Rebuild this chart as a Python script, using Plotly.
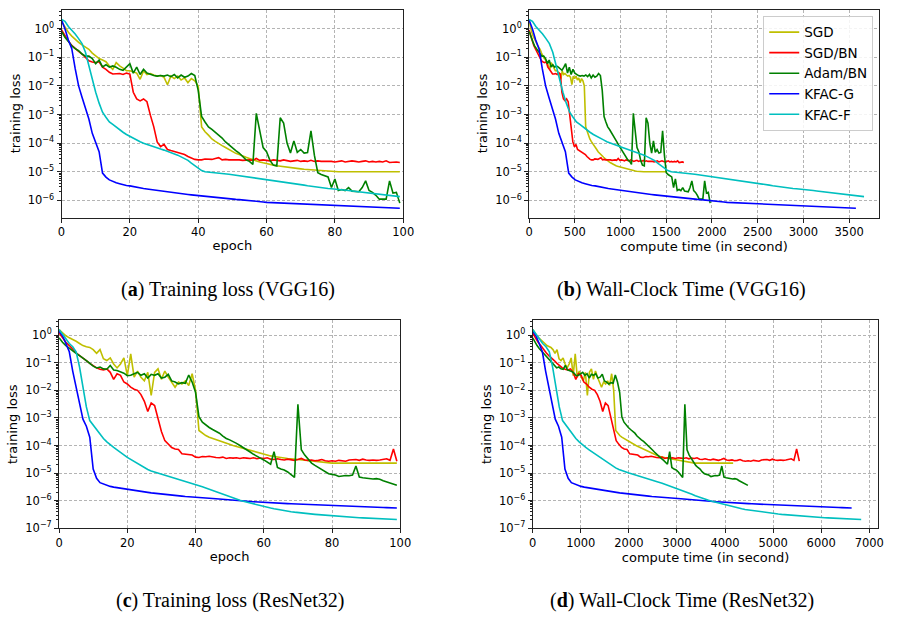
import plotly.graph_objects as go

# ---------------- data ----------------
EPOCHS = list(range(100))
METHODS = ["SGD", "SGD/BN", "Adam/BN", "KFAC-G", "KFAC-F"]
COLORS = ["#bfbf00", "#ff0000", "#008000", "#0000ff", "#00bfbf"]

# VGG16 training loss per epoch
VGG_SGD = [1.8, 1.1, 0.75, 0.55, 0.42, 0.33, 0.27, 0.22, 0.19, 0.14,
           0.11, 0.09, 0.08, 0.07, 0.05, 0.038, 0.065, 0.05, 0.042, 0.034,
           0.034, 0.03, 0.028, 0.017, 0.033, 0.025, 0.027, 0.024, 0.022, 0.023,
           0.02, 0.011, 0.022, 0.018, 0.022, 0.016, 0.019, 0.013, 0.018, 0.015,
           0.01, 3.7e-4, 2.5e-4, 1.9e-4, 1.4e-4, 1.15e-4, 9.5e-5, 8.2e-5, 7e-5, 6e-5,
           5e-5, 4.4e-5, 4e-5, 3.5e-5, 3.2e-5, 2.9e-5, 2.6e-5, 2.4e-5, 2.2e-5, 2.05e-5,
           1.9e-5, 1.8e-5, 1.7e-5, 1.62e-5, 1.55e-5, 1.5e-5, 1.45e-5, 1.4e-5, 1.35e-5, 1.3e-5,
           1.26e-5, 1.22e-5, 1.19e-5, 1.16e-5, 1.13e-5, 1.1e-5, 1.08e-5, 1.06e-5, 1.04e-5, 1.02e-5,
           1.0e-5, 1.0e-5, 1.0e-5, 1.0e-5, 1.0e-5, 1.0e-5, 1.0e-5, 1.0e-5, 1.0e-5, 1.0e-5,
           1.0e-5, 1.0e-5, 1.0e-5, 1.0e-5, 1.0e-5, 1.0e-5, 1.0e-5, 1.0e-5, 1.0e-5, 1.0e-5]
VGG_SGDBN = [0.9, 0.55, 0.37, 0.26, 0.2, 0.16, 0.13, 0.1, 0.075, 0.068,
             0.065, 0.07, 0.045, 0.038, 0.03, 0.026, 0.026, 0.027, 0.025, 0.028,
             0.026, 0.006, 0.0035, 0.003, 0.0035, 0.0028, 9.5e-4, 3.7e-4, 1.1e-4, 7.5e-5,
             9e-5, 6e-5, 5.5e-5, 5e-5, 4.8e-5, 4.4e-5, 4e-5, 3.4e-5, 3e-5, 2.7e-5,
             2.6e-5, 2.6e-5, 2.8e-5, 2.8e-5, 2.7e-5, 2.9e-5, 3.1e-5, 2.6e-5, 2.7e-5, 2.6e-5,
             2.6e-5, 2.7e-5, 2.6e-5, 2.5e-5, 2.6e-5, 2.6e-5, 2.5e-5, 2.9e-5, 2.5e-5, 2.6e-5,
             2.5e-5, 2.4e-5, 2.6e-5, 2.5e-5, 2.4e-5, 2.6e-5, 2.4e-5, 2.3e-5, 2.4e-5, 2.5e-5,
             2.3e-5, 2.4e-5, 2.3e-5, 2.5e-5, 2.3e-5, 2.4e-5, 2.3e-5, 2.3e-5, 2.4e-5, 2.3e-5,
             2.2e-5, 2.3e-5, 2.4e-5, 2.2e-5, 2.3e-5, 2.4e-5, 2.3e-5, 2.2e-5, 2.3e-5, 2.4e-5,
             2.2e-5, 2.3e-5, 2.2e-5, 2.3e-5, 2.2e-5, 2.4e-5, 2.1e-5, 2.2e-5, 2.2e-5, 2.1e-5]
VGG_ADAM = [0.8, 0.5, 0.36, 0.25, 0.2, 0.17, 0.13, 0.11, 0.11, 0.09,
            0.06, 0.08, 0.046, 0.055, 0.045, 0.05, 0.045, 0.038, 0.035, 0.045,
            0.06, 0.028, 0.045, 0.025, 0.038, 0.028, 0.025, 0.023, 0.022, 0.023,
            0.022, 0.024, 0.021, 0.025, 0.019, 0.024, 0.02, 0.022, 0.027, 0.023,
            0.007, 8.5e-4, 5.5e-4, 3.7e-4, 3e-4, 2.4e-4, 1.8e-4, 1.5e-4, 1.1e-4, 8.5e-5,
            6.7e-5, 5.5e-5, 4.5e-5, 3.5e-5, 2.6e-5, 2.3e-5, 1.8e-5, 1.1e-3, 3e-4, 7e-5,
            5e-5, 2.5e-5, 1.7e-5, 1.6e-5, 7.7e-4, 5e-4, 1e-4, 4.5e-5, 1.2e-4, 4.8e-5,
            6e-5, 4.5e-5, 4.7e-5, 2.7e-4, 3.8e-5, 9.3e-6, 8e-6, 7.4e-6, 6.6e-6, 2.8e-6,
            5.6e-6, 2.2e-6, 2.4e-6, 2.2e-6, 2.8e-6, 2.1e-6, 2.0e-6, 2.0e-6, 2.8e-6, 4.8e-6,
            2.2e-6, 1.9e-6, 1.5e-6, 1.1e-6, 1.1e-6, 1.1e-6, 4.8e-6, 1.8e-6, 1.9e-6, 8e-7]
VGG_KFACG = [2.0, 1.0, 0.4, 0.2, 0.04, 0.01, 0.004, 0.0018, 7e-4, 2.2e-4,
             1.1e-4, 5e-5, 9e-6, 6.5e-6, 5.2e-6, 4.5e-6, 4.1e-6, 3.8e-6, 3.5e-6, 3.3e-6,
             3.2e-6, 3.0e-6, 2.85e-6, 2.7e-6, 2.6e-6, 2.5e-6, 2.4e-6, 2.3e-6, 2.2e-6, 2.1e-6,
             2.0e-6, 1.95e-6, 1.9e-6, 1.85e-6, 1.8e-6, 1.72e-6, 1.65e-6, 1.6e-6, 1.55e-6, 1.5e-6,
             1.45e-6, 1.42e-6, 1.38e-6, 1.35e-6, 1.32e-6, 1.28e-6, 1.25e-6, 1.22e-6, 1.18e-6, 1.14e-6,
             1.1e-6, 1.08e-6, 1.06e-6, 1.04e-6, 1.02e-6, 1.0e-6, 9.7e-7, 9.4e-7, 9.1e-7, 8.8e-7,
             8.5e-7, 8.4e-7, 8.3e-7, 8.2e-7, 8.1e-7, 8.0e-7, 7.9e-7, 7.8e-7, 7.7e-7, 7.6e-7,
             7.5e-7, 7.4e-7, 7.3e-7, 7.2e-7, 7.1e-7, 7.0e-7, 6.9e-7, 6.8e-7, 6.7e-7, 6.65e-7,
             6.6e-7, 6.5e-7, 6.45e-7, 6.4e-7, 6.3e-7, 6.2e-7, 6.15e-7, 6.1e-7, 6.0e-7, 5.95e-7,
             5.9e-7, 5.8e-7, 5.75e-7, 5.7e-7, 5.6e-7, 5.55e-7, 5.5e-7, 5.45e-7, 5.4e-7, 5.3e-7]
VGG_KFACF = [2.1, 1.8, 1.2, 0.9, 0.65, 0.45, 0.3, 0.15, 0.05, 0.015,
             0.006, 0.0025, 0.0012, 8e-4, 5.5e-4, 4.5e-4, 3.6e-4, 2.9e-4, 2.4e-4, 2e-4,
             1.7e-4, 1.5e-4, 1.3e-4, 1.12e-4, 1e-4, 9e-5, 8.2e-5, 7.5e-5, 6.8e-5, 6.2e-5,
             5.7e-5, 5.2e-5, 4.7e-5, 4.2e-5, 3.8e-5, 3.3e-5, 2.9e-5, 2.5e-5, 2.0e-5, 1.6e-5,
             1.3e-5, 1.1e-5, 1.0e-5, 9.8e-6, 9.6e-6, 9.4e-6, 9.1e-6, 8.8e-6, 8.5e-6, 8.2e-6,
             7.9e-6, 7.6e-6, 7.3e-6, 7.1e-6, 6.8e-6, 6.6e-6, 6.3e-6, 6.1e-6, 5.9e-6, 5.7e-6,
             5.5e-6, 5.3e-6, 5.1e-6, 4.9e-6, 4.7e-6, 4.5e-6, 4.3e-6, 4.1e-6, 3.9e-6, 3.7e-6,
             3.55e-6, 3.4e-6, 3.25e-6, 3.1e-6, 3.0e-6, 2.9e-6, 2.8e-6, 2.7e-6, 2.6e-6, 2.55e-6,
             2.5e-6, 2.42e-6, 2.35e-6, 2.28e-6, 2.2e-6, 2.12e-6, 2.05e-6, 1.98e-6, 1.9e-6, 1.85e-6,
             1.8e-6, 1.74e-6, 1.68e-6, 1.62e-6, 1.57e-6, 1.52e-6, 1.48e-6, 1.44e-6, 1.4e-6, 1.35e-6]

# ResNet32 training loss per epoch
RES_SGD = [1.6, 1.2, 0.95, 0.8, 0.7, 0.6, 0.5, 0.42, 0.38, 0.36,
           0.3, 0.22, 0.3, 0.14, 0.12, 0.15, 0.09, 0.065, 0.09, 0.15,
           0.034, 0.21, 0.03, 0.05, 0.03, 0.022, 0.045, 0.0065, 0.045, 0.06,
           0.025, 0.05, 0.03, 0.02, 0.013, 0.02, 0.017, 0.022, 0.015, 0.04,
           0.01, 3.5e-4, 2.8e-4, 2.3e-4, 2e-4, 1.8e-4, 1.6e-4, 1.45e-4, 1.3e-4, 1.2e-4,
           1.1e-4, 1e-4, 9.2e-5, 8.5e-5, 7.8e-5, 7.2e-5, 6.6e-5, 6e-5, 5.5e-5, 5.1e-5,
           4.8e-5, 4.5e-5, 4.2e-5, 4e-5, 3.8e-5, 3.6e-5, 3.5e-5, 3.4e-5, 3.3e-5, 3.2e-5,
           3.1e-5, 3e-5, 2.9e-5, 2.8e-5, 2.7e-5, 2.6e-5, 2.5e-5, 2.45e-5, 2.4e-5, 2.35e-5,
           2.3e-5, 2.3e-5, 2.3e-5, 2.3e-5, 2.3e-5, 2.3e-5, 2.3e-5, 2.3e-5, 2.3e-5, 2.3e-5,
           2.3e-5, 2.3e-5, 2.3e-5, 2.3e-5, 2.3e-5, 2.3e-5, 2.3e-5, 2.3e-5, 2.3e-5, 2.3e-5]
RES_SGDBN = [1.2, 0.8, 0.55, 0.42, 0.3, 0.23, 0.18, 0.15, 0.12, 0.095,
             0.078, 0.065, 0.058, 0.055, 0.06, 0.045, 0.025, 0.04, 0.035, 0.02,
             0.017, 0.013, 0.011, 0.01, 0.007, 0.004, 0.0017, 0.0035, 0.0028, 0.001,
             3.2e-4, 1.5e-4, 1.1e-4, 8.5e-5, 7.5e-5, 7.2e-5, 5e-5, 4.8e-5, 4.7e-5, 4.5e-5,
             3.8e-5, 3.7e-5, 4e-5, 3.9e-5, 4.1e-5, 3.8e-5, 3.7e-5, 3.6e-5, 3.8e-5, 3.4e-5,
             3.6e-5, 3.5e-5, 3.6e-5, 3.4e-5, 3.6e-5, 3.5e-5, 3.4e-5, 3.6e-5, 3.3e-5, 3.5e-5,
             3.4e-5, 3.6e-5, 3.2e-5, 3.1e-5, 3.3e-5, 3.1e-5, 3.0e-5, 3.2e-5, 3.0e-5, 2.9e-5,
             3.1e-5, 3.4e-5, 3.0e-5, 2.9e-5, 3.0e-5, 2.8e-5, 2.9e-5, 3.1e-5, 2.8e-5, 2.7e-5,
             2.8e-5, 2.7e-5, 2.9e-5, 2.8e-5, 2.7e-5, 3.0e-5, 3.0e-5, 3.1e-5, 2.9e-5, 3.2e-5,
             3.0e-5, 2.9e-5, 3.0e-5, 2.9e-5, 3.0e-5, 3.1e-5, 3.3e-5, 2.9e-5, 7.5e-5, 2.7e-5]
RES_ADAM = [0.8, 0.55, 0.42, 0.33, 0.27, 0.22, 0.18, 0.15, 0.12, 0.095,
            0.075, 0.065, 0.07, 0.06, 0.058, 0.08, 0.055, 0.052, 0.048, 0.042,
            0.034, 0.035, 0.04, 0.045, 0.035, 0.04, 0.028, 0.038, 0.035, 0.04,
            0.028, 0.03, 0.038, 0.022, 0.02, 0.017, 0.019, 0.018, 0.036, 0.02,
            0.0085, 0.0011, 7e-4, 5.5e-4, 4.5e-4, 3.8e-4, 3.3e-4, 2.8e-4, 2.2e-4, 1.8e-4,
            1.6e-4, 1.4e-4, 1.2e-4, 1e-4, 8.5e-5, 7e-5, 5.8e-5, 4.8e-5, 4.2e-5, 3.5e-5,
            3e-5, 2.5e-5, 2.1e-5, 6e-5, 1.6e-5, 1.4e-5, 1.3e-5, 1.1e-5, 8.5e-6, 7e-6,
            3.1e-3, 7e-5, 4.5e-5, 3.3e-5, 2.3e-5, 1.9e-5, 1.6e-5, 1.4e-5, 1.1e-5, 9.5e-6,
            9e-6, 8.5e-6, 7.5e-6, 7.8e-6, 8.2e-6, 8e-6, 8.5e-6, 1.8e-5, 7.2e-6, 6.8e-6,
            6.5e-6, 6.3e-6, 6.1e-6, 6.3e-6, 6e-6, 5.3e-6, 4.8e-6, 4.3e-6, 3.9e-6, 3.6e-6]
RES_KFACG = [1.4, 0.95, 0.5, 0.25, 0.05, 0.012, 0.003, 9e-4, 5e-4, 2e-4,
             1.4e-5, 6.5e-6, 4.5e-6, 4e-6, 3.6e-6, 3.3e-6, 3.1e-6, 2.95e-6, 2.8e-6, 2.7e-6,
             2.6e-6, 2.5e-6, 2.4e-6, 2.3e-6, 2.2e-6, 2.1e-6, 2.0e-6, 1.92e-6, 1.85e-6, 1.78e-6,
             1.72e-6, 1.67e-6, 1.62e-6, 1.58e-6, 1.54e-6, 1.5e-6, 1.46e-6, 1.42e-6, 1.38e-6, 1.34e-6,
             1.3e-6, 1.28e-6, 1.26e-6, 1.24e-6, 1.22e-6, 1.2e-6, 1.18e-6, 1.16e-6, 1.14e-6, 1.12e-6,
             1.1e-6, 1.07e-6, 1.04e-6, 1.01e-6, 9.8e-7, 9.6e-7, 9.4e-7, 9.2e-7, 9.0e-7, 8.8e-7,
             8.6e-7, 8.5e-7, 8.4e-7, 8.3e-7, 8.2e-7, 8.1e-7, 8.0e-7, 7.8e-7, 7.7e-7, 7.6e-7,
             7.5e-7, 7.4e-7, 7.3e-7, 7.2e-7, 7.1e-7, 7.0e-7, 6.9e-7, 6.8e-7, 6.7e-7, 6.6e-7,
             6.5e-7, 6.45e-7, 6.4e-7, 6.35e-7, 6.3e-7, 6.2e-7, 6.15e-7, 6.1e-7, 6.05e-7, 6.0e-7,
             5.9e-7, 5.85e-7, 5.8e-7, 5.75e-7, 5.7e-7, 5.65e-7, 5.6e-7, 5.55e-7, 5.5e-7, 5.45e-7]
RES_KFACF = [1.6, 1.1, 0.7, 0.5, 0.38, 0.25, 0.07, 0.012, 0.0025, 8e-4,
             5.5e-4, 3.5e-4, 2.6e-4, 1.8e-4, 1.35e-4, 1.05e-4, 8.5e-5, 7e-5, 5.8e-5, 4.6e-5,
             3.7e-5, 3.1e-5, 2.6e-5, 2.2e-5, 1.85e-5, 1.55e-5, 1.35e-5, 1.2e-5, 1.1e-5, 1e-5,
             9.3e-6, 8.6e-6, 8e-6, 7.4e-6, 6.8e-6, 6.2e-6, 5.7e-6, 5.2e-6, 4.7e-6, 4.3e-6,
             3.9e-6, 3.5e-6, 3.2e-6, 2.9e-6, 2.6e-6, 2.35e-6, 2.1e-6, 1.9e-6, 1.7e-6, 1.5e-6,
             1.35e-6, 1.22e-6, 1.12e-6, 1.03e-6, 9.5e-7, 8.8e-7, 8.2e-7, 7.6e-7, 7e-7, 6.5e-7,
             6e-7, 5.7e-7, 5.4e-7, 5.1e-7, 4.8e-7, 4.6e-7, 4.4e-7, 4.2e-7, 4e-7, 3.85e-7,
             3.7e-7, 3.6e-7, 3.5e-7, 3.4e-7, 3.3e-7, 3.2e-7, 3.12e-7, 3.04e-7, 2.96e-7, 2.88e-7,
             2.8e-7, 2.75e-7, 2.7e-7, 2.65e-7, 2.6e-7, 2.55e-7, 2.5e-7, 2.46e-7, 2.42e-7, 2.38e-7,
             2.34e-7, 2.3e-7, 2.27e-7, 2.24e-7, 2.21e-7, 2.18e-7, 2.15e-7, 2.12e-7, 2.1e-7, 2.08e-7]

# average wall-clock seconds per epoch, per method (SGD, SGD/BN, Adam/BN, KFAC-G, KFAC-F)
VGG_SEC_PER_EPOCH = [15.1, 17.1, 20.0, 36.1, 37.0]
RES_SEC_PER_EPOCH = [42.1, 56.0, 45.2, 67.0, 69.0]

VGG_LOSSES = [VGG_SGD, VGG_SGDBN, VGG_ADAM, VGG_KFACG, VGG_KFACF]
RES_LOSSES = [RES_SGD, RES_SGDBN, RES_ADAM, RES_KFACG, RES_KFACF]

CAPTIONS = ["(<b>a</b>) Training loss (VGG16)", "(<b>b</b>) Wall-Clock Time (VGG16)",
            "(<b>c</b>) Training loss (ResNet32)", "(<b>d</b>) Wall-Clock Time (ResNet32)"]
X_TITLES = ["epoch", "compute time (in second)", "epoch", "compute time (in second)"]
Y_TITLE = "training loss"

# ---------------- layout helpers ----------------
W, H = 898, 621


def xd(a, b):
    return [a / W, b / W]


def yd(top, bottom):
    return [1 - bottom / H, 1 - top / H]


SUP = {0: "0", 1: "\u22121", 2: "\u22122", 3: "\u22123", 4: "\u22124", 5: "\u22125", 6: "\u22126", 7: "\u22127"}

panels = [
    dict(n="", xdom=xd(58.5, 406), ydom=yd(9.7, 220), xr=[0, 100], dtick=20,
         yr=[-6.6, 0.667], decs=6, losses=VGG_LOSSES, spe=None, legend=False),
    dict(n="2", xdom=xd(534, 890), ydom=yd(9.7, 220), xr=[0, 3828], dtick=500,
         yr=[-6.6, 0.667], decs=6, losses=VGG_LOSSES, spe=VGG_SEC_PER_EPOCH, legend=True),
    dict(n="3", xdom=xd(56, 403), ydom=yd(324, 534.3), xr=[0, 100], dtick=20,
         yr=[-7.0, 0.537], decs=7, losses=RES_LOSSES, spe=None, legend=False),
    dict(n="4", xdom=xd(537.7, 889.3), ydom=yd(324, 534.3), xr=[0, 7190], dtick=1000,
         yr=[-7.0, 0.537], decs=7, losses=RES_LOSSES, spe=RES_SEC_PER_EPOCH, legend=False),
]

fig = go.Figure()
AXFONT = dict(family="DejaVu Sans", size=11.5, color="#000000")
TITLEFONT = dict(family="DejaVu Sans", size=13, color="#000000")
GRID = dict(showgrid=True, gridcolor="#b4b4b4", gridwidth=0.8, griddash="3px,2px")

layout = {}
for i, p in enumerate(panels):
    xa = "x" + p["n"]
    ya = "y" + p["n"]
    for m in range(5):
        ys = p["losses"][m]
        if p["spe"] is None:
            xs = EPOCHS
        else:
            xs = [e * p["spe"][m] for e in EPOCHS]
        fig.add_trace(go.Scatter(
            x=xs, y=ys, mode="lines", name=METHODS[m],
            line=dict(color=COLORS[m], width=1.6),
            xaxis=xa, yaxis=ya, showlegend=p["legend"], legendgroup=METHODS[m]))
    tv = [10.0 ** (-k) for k in range(0, p["decs"] + 1)]
    tt = ["10<sup>%s</sup>" % SUP[k] for k in range(0, p["decs"] + 1)]
    minors = [d * 10.0 ** (-k) for k in range(0, p["decs"] + 1) for d in range(2, 10)]
    layout["xaxis" + p["n"]] = dict(
        domain=p["xdom"], anchor=ya, range=p["xr"], dtick=p["dtick"], tick0=0,
        showline=True, mirror=True, linecolor="#222222", linewidth=1,
        ticks="outside", ticklen=4, tickcolor="#222222", tickfont=AXFONT,
        title=dict(text=X_TITLES[i], font=TITLEFONT, standoff=2), zeroline=False, **GRID)
    layout["yaxis" + p["n"]] = dict(
        domain=p["ydom"], anchor=xa, type="log", range=p["yr"],
        tickmode="array", tickvals=tv, ticktext=tt,
        showline=True, mirror=True, linecolor="#222222", linewidth=1,
        ticks="outside", ticklen=4, tickcolor="#222222", tickfont=AXFONT,
        minor=dict(tickmode="array", tickvals=minors, ticks="outside", ticklen=2,
                   tickcolor="#222222", showgrid=False),
        title=dict(text=Y_TITLE, font=TITLEFONT, standoff=4), zeroline=False, **GRID)

fig.update_layout(**layout)

cap_pos = [(228, 293), (689, 293), (230, 607), (690, 607)]
for txt, (cx, cy) in zip(CAPTIONS, cap_pos):
    fig.add_annotation(text=txt, x=cx / W, y=1 - cy / H, xref="paper", yref="paper",
                       showarrow=False, xanchor="center", yanchor="middle",
                       font=dict(family="Liberation Serif", size=20, color="#000000"))

fig.update_layout(
    width=W, height=H, margin=dict(l=0, r=0, t=0, b=0),
    paper_bgcolor="white", plot_bgcolor="white",
    legend=dict(x=884 / W, y=1 - 16 / H, xanchor="right", yanchor="top",
                bgcolor="rgba(255,255,255,0.85)", bordercolor="#cccccc", borderwidth=1,
                font=dict(family="DejaVu Sans", size=13.5, color="#000000"),
                itemwidth=30, tracegroupgap=0),
    font=dict(family="DejaVu Sans"),
)

fig.write_html("out.html")
